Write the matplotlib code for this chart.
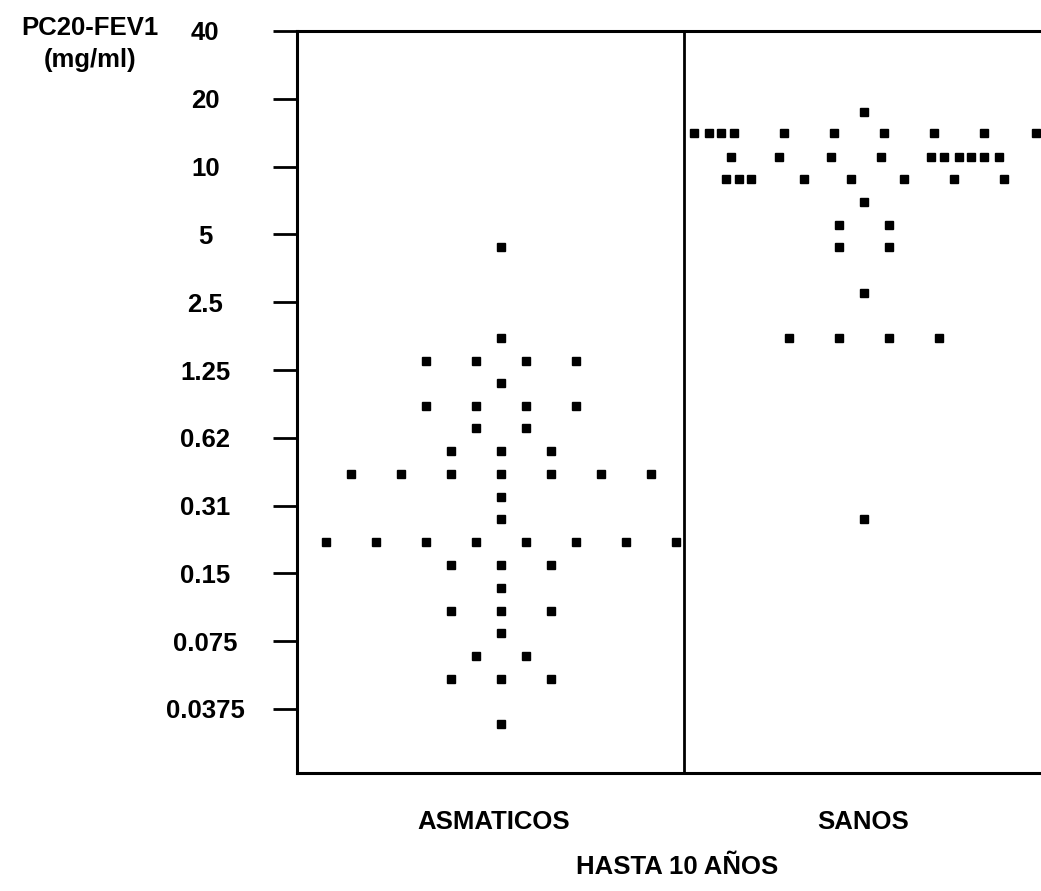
import numpy as np
import matplotlib
matplotlib.use("Agg")
import matplotlib.pyplot as plt

# PC20-FEV1 (mg/ml) dot plot, two groups
groups = ["ASMATICOS", "SANOS"]
tick_labels = ["40", "20", "10", "5", "2.5", "1.25", "0.62", "0.31", "0.15", "0.075", "0.0375"]

# each row: value (mg/ml) and column slots of the dots in that row
asm_values = [4.40, 1.73, 1.37, 1.09, 0.865, 0.691, 0.546, 0.432, 0.341, 0.272,
              0.215, 0.170, 0.135, 0.106, 0.0849, 0.0672, 0.0531, 0.0335]
asm_slots = [[0], [0], [-3, -1, 1, 3], [0], [-3, -1, 1, 3], [-1, 1], [-2, 0, 2],
             [-6, -4, -2, 0, 2, 4, 6], [0], [0], [-7, -5, -3, -1, 1, 3, 5, 7],
             [-2, 0, 2], [0], [-2, 0, 2], [0], [-1, 1], [-2, 0, 2], [0]]

san_values = [17.5, 14.1, 11.0, 8.81, 6.96, 5.50, 4.40, 2.75, 1.73, 0.272]
san_slots = [[0],
             [-6.8, -6.2, -5.7, -5.2, -3.2, -1.2, 0.8, 2.8, 4.8, 6.9],
             [-5.3, -3.4, -1.3, 0.7, 2.7, 3.2, 3.8, 4.3, 4.8, 5.4],
             [-5.5, -5.0, -4.5, -2.4, -0.5, 1.6, 3.6, 5.6],
             [0], [-1, 1], [-1, 1], [0], [-3, -1, 1, 3], [0]]

W, H = 1041, 891
fig = plt.figure(figsize=(W / 100, H / 100), dpi=100)
ax = fig.add_axes([297 / W, (H - 773) / H, 774 / W, 742 / H])

font = {"family": ["Liberation Sans", "DejaVu Sans"], "weight": "bold"}
fs = 18.5

slot = 25 / 387          # one dot column in axis units
centers = [0.527, 1.465]

for c, vals, slots in [(centers[0], asm_values, asm_slots), (centers[1], san_values, san_slots)]:
    xs, ys = [], []
    for v, row in zip(vals, slots):
        for s in row:
            xs.append(c + s * slot)
            ys.append(v)
    ax.plot(xs, ys, "s", color="black", markersize=6.2, linestyle="none", clip_on=False)

ax.set_yscale("log")
top = 40.0
bottom = top / 2 ** ((773 - 31) / 67.8)
ax.set_ylim(bottom, top)
ax.set_xlim(0, 2)

ticks = [top / 2 ** k for k in range(len(tick_labels))]
ax.set_yticks(ticks)
ax.set_yticklabels(tick_labels, fontdict=font, fontsize=fs)
ax.yaxis.set_minor_locator(matplotlib.ticker.NullLocator())
ax.tick_params(axis="y", length=17, width=2, direction="out", pad=49)
for lab in ax.get_yticklabels():
    lab.set_horizontalalignment("center")

ax.set_xticks([])
ax.axvline(1.0, color="black", linewidth=2)
for sp in ["left", "bottom", "top", "right"]:
    ax.spines[sp].set_linewidth(2.2)

fig.text(494 / W, 1 - 822 / H, groups[0], ha="center", va="center", fontsize=fs, **font)
fig.text(863 / W, 1 - 822 / H, groups[1], ha="center", va="center", fontsize=fs, **font)
fig.text(90 / W, 1 - 28 / H, "PC20-FEV1", ha="center", va="center", fontsize=fs, **font)
fig.text(90 / W, 1 - 60 / H, "(mg/ml)", ha="center", va="center", fontsize=fs, **font)
fig.text(677 / W, 1 - 867 / H, "HASTA 10 AÑOS", ha="center", va="center", fontsize=fs, **font)

fig.savefig("out.png", dpi=100)
